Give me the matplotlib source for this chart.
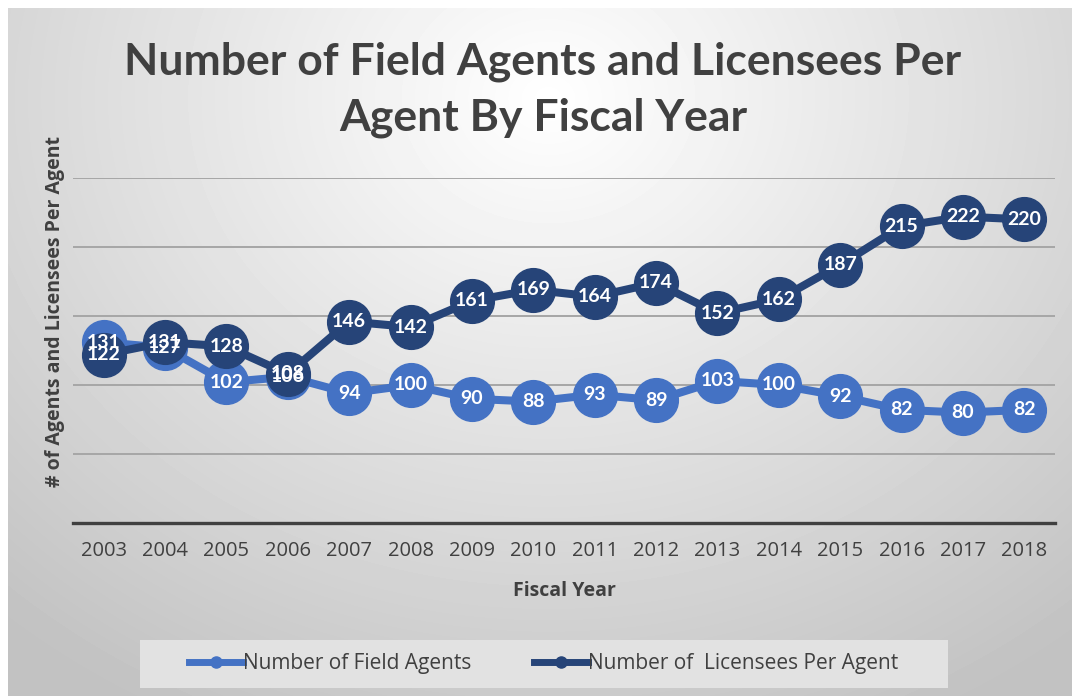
import numpy as np
import matplotlib
matplotlib.use("Agg")
import matplotlib.pyplot as plt
from matplotlib.lines import Line2D

years = ["2003", "2004", "2005", "2006", "2007", "2008", "2009", "2010",
         "2011", "2012", "2013", "2014", "2015", "2016", "2017", "2018"]
field_agents = [131, 127, 102, 106, 94, 100, 90, 88, 93, 89, 103, 100, 92, 82, 80, 82]
licensees_per_agent = [122, 131, 128, 108, 146, 142, 161, 169, 164, 174, 152, 162,
                       187, 215, 222, 220]

LIGHT = "#4472C4"
DARK = "#264478"
TXT = "#404040"
OPEN = ["Open Sans", "DejaVu Sans"]
plt.rcParams["font.family"] = ["Lato", "DejaVu Sans"]

W, H = 1072, 696
fig = plt.figure(figsize=(W / 100, H / 100), dpi=100)
fig.patch.set_facecolor("white")

# gradient background of the chart area
bg = fig.add_axes([8 / W, 0, 1 - 8 / W, 1 - 8 / H], zorder=-10)
yy, xx = np.mgrid[0:688, 0:1064]
r = np.sqrt((xx - 540) ** 2 + ((yy - 90) / 0.85) ** 2)
t = np.clip(r / 820, 0, 1)
shade = 1.0 - 0.24 * t
bg.imshow(shade, cmap="gray", vmin=0, vmax=1, aspect="auto",
          extent=[0, 1, 0, 1], origin="upper")
bg.set_axis_off()

ax = fig.add_axes([73 / W, (H - 523) / H, 982 / W, 345 / H])
ax.patch.set_alpha(0)
x = np.arange(len(years))

ax.plot(x, field_agents, color=LIGHT, lw=5.8, marker="o", ms=31.5, zorder=3,
        solid_capstyle="round", label="Number of Field Agents")
ax.plot(x, licensees_per_agent, color=DARK, lw=5.8, marker="o", ms=31.5, zorder=4,
        solid_capstyle="round", label="Number of  Licensees Per Agent")

for xi, v in zip(x, field_agents):
    ax.text(xi, v, str(v), color="white", fontsize=14, fontweight="bold",
            ha="center", va="center", zorder=5)
for xi, v in zip(x, licensees_per_agent):
    ax.text(xi, v, str(v), color="white", fontsize=14, fontweight="bold",
            ha="center", va="center", zorder=6)

ax.set_xlim(-0.5, len(years) - 0.5)
ax.set_ylim(0, 250)
ax.set_yticks([50, 100, 150, 200, 250])
ax.yaxis.grid(True, color="#a6a6a6", lw=1.4)
ax.set_axisbelow(True)
ax.tick_params(axis="y", length=0, labelleft=False)
ax.set_xticks(x)
ax.set_xticklabels(years, fontsize=14.5, color=TXT, family=OPEN)
ax.tick_params(axis="x", length=0, pad=13)
for s in ["top", "right", "left"]:
    ax.spines[s].set_visible(False)
ax.spines["bottom"].set_color(TXT)
ax.spines["bottom"].set_linewidth(2.4)

ax.set_xlabel("Fiscal Year", fontsize=14, fontweight="bold", color=TXT,
              labelpad=14, family=OPEN)
fig.text(55 / W, 1 - 311 / H, "# of Agents and Licensees Per Agent", rotation=90,
         ha="center", va="center", fontsize=14, fontweight="bold", color=TXT,
         family=OPEN)

fig.text(543 / W, 1 - 62 / H, "Number of Field Agents and Licensees Per",
         ha="center", va="center", fontsize=32, fontweight="bold", color=TXT)
fig.text(543 / W, 1 - 118 / H, "Agent By Fiscal Year",
         ha="center", va="center", fontsize=32, fontweight="bold", color=TXT)

# legend box
lg_ax = fig.add_axes([140 / W, (H - 688) / H, 808 / W, 48 / H])
lg_ax.set_facecolor("#e2e2e2")
lg_ax.set_xticks([])
lg_ax.set_yticks([])
for s in lg_ax.spines.values():
    s.set_visible(False)
handles = [Line2D([0], [0], color=LIGHT, lw=5, marker="o", ms=8),
           Line2D([0], [0], color=DARK, lw=5, marker="o", ms=8)]
lg_ax.legend(handles, ["Number of Field Agents", "Number of  Licensees Per Agent"],
             loc="center", ncol=2, frameon=False, labelcolor=TXT,
             handlelength=2.6, handletextpad=0.0, columnspacing=3.0,
             prop={"family": OPEN, "size": 15})

fig.savefig("out.png", dpi=100)
